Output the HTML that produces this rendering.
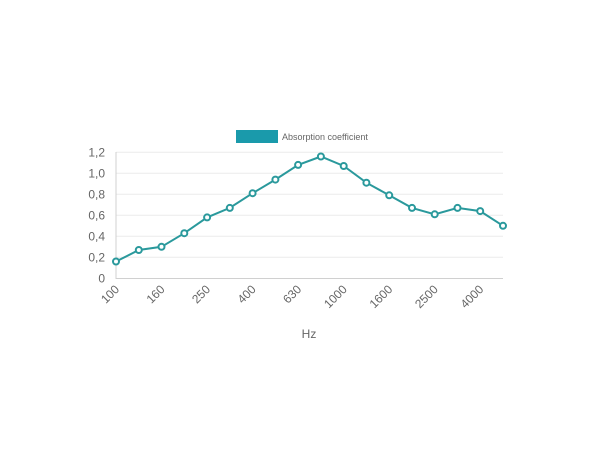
<!DOCTYPE html>
<html><head><meta charset="utf-8"><style>
html,body{margin:0;padding:0;background:#fff;}
svg{display:block;font-family:"Liberation Sans",Arial,sans-serif;}
</style></head><body>
<svg width="610" height="450" viewBox="0 0 610 450">
<rect x="236" y="130" width="42" height="13" fill="#1a9aab"/>
<text x="282" y="140" font-size="9" fill="#666">Absorption coefficient</text>
<g stroke="#ececec" stroke-width="1">
<line x1="116" y1="257.3" x2="503" y2="257.3"/>
<line x1="116" y1="236.3" x2="503" y2="236.3"/>
<line x1="116" y1="215.3" x2="503" y2="215.3"/>
<line x1="116" y1="194.3" x2="503" y2="194.3"/>
<line x1="116" y1="173.3" x2="503" y2="173.3"/>
<line x1="116" y1="152.3" x2="503" y2="152.3"/>
</g>
<line x1="116" y1="278.5" x2="503" y2="278.5" stroke="#d0d0d0"/>
<line x1="116" y1="152" x2="116" y2="279" stroke="#d0d0d0"/>
<g font-size="12" fill="#666" text-anchor="end">
<text x="105" y="282.5">0</text>
<text x="105" y="261.5">0,2</text>
<text x="105" y="240.5">0,4</text>
<text x="105" y="219.5">0,6</text>
<text x="105" y="198.5">0,8</text>
<text x="105" y="177.5">1,0</text>
<text x="105" y="156.5">1,2</text>
</g>
<g font-size="12" fill="#666" text-anchor="end">
<text transform="translate(120,290) rotate(-45)">100</text>
<text transform="translate(165.5,290) rotate(-45)">160</text>
<text transform="translate(211,290) rotate(-45)">250</text>
<text transform="translate(256.6,290) rotate(-45)">400</text>
<text transform="translate(302.1,290) rotate(-45)">630</text>
<text transform="translate(347.7,290) rotate(-45)">1000</text>
<text transform="translate(393.2,290) rotate(-45)">1600</text>
<text transform="translate(438.7,290) rotate(-45)">2500</text>
<text transform="translate(484.2,290) rotate(-45)">4000</text>
</g>
<text x="309" y="338" font-size="12" fill="#666" text-anchor="middle">Hz</text>
<polyline fill="none" stroke="#2a999c" stroke-width="2" points="116,261.5 138.8,250 161.5,246.8 184.3,233.2 207.1,217.4 229.8,207.9 252.6,193.2 275.4,179.6 298.1,164.9 320.9,156.5 343.7,166 366.4,182.7 389.2,195.3 412,207.9 434.7,214.3 457.5,207.9 480.2,211.1 503,225.8"/>
<g fill="#fff" stroke="#2a999c" stroke-width="2">
<circle cx="116" cy="261.5" r="3"/><circle cx="138.8" cy="250" r="3"/><circle cx="161.5" cy="246.8" r="3"/><circle cx="184.3" cy="233.2" r="3"/><circle cx="207.1" cy="217.4" r="3"/><circle cx="229.8" cy="207.9" r="3"/><circle cx="252.6" cy="193.2" r="3"/><circle cx="275.4" cy="179.6" r="3"/><circle cx="298.1" cy="164.9" r="3"/><circle cx="320.9" cy="156.5" r="3"/><circle cx="343.7" cy="166" r="3"/><circle cx="366.4" cy="182.7" r="3"/><circle cx="389.2" cy="195.3" r="3"/><circle cx="412" cy="207.9" r="3"/><circle cx="434.7" cy="214.3" r="3"/><circle cx="457.5" cy="207.9" r="3"/><circle cx="480.2" cy="211.1" r="3"/><circle cx="503" cy="225.8" r="3"/>
</g>
</svg>
</body></html>
